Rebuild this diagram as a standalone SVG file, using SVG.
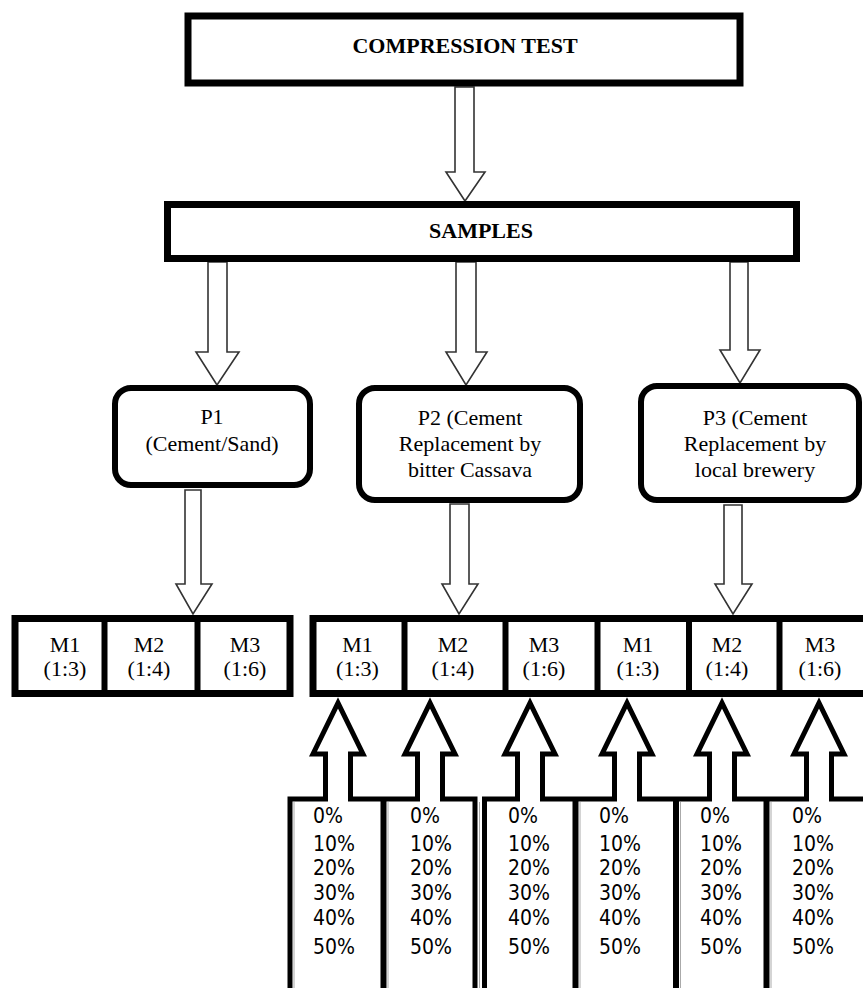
<svg xmlns="http://www.w3.org/2000/svg" width="863" height="988" viewBox="0 0 863 988">
<style>
.box{fill:#fff;stroke:#000;stroke-width:7}
.pbox{fill:#fff;stroke:#000;stroke-width:6}
.cell{fill:none;stroke:#000;stroke-width:6}
.harrow{fill:#fff;stroke:#333;stroke-width:1.6;stroke-linejoin:miter}
.tarrow{fill:#fff;stroke:#000;stroke-width:5;stroke-linejoin:miter;stroke-miterlimit:10}
.div{stroke:#000;stroke-width:6}
.thin{stroke:#aaa;stroke-width:1}
.sb{font-family:"Liberation Serif","Times New Roman",serif;font-size:22px;font-weight:bold;text-anchor:middle}
.s{font-family:"Liberation Serif","Times New Roman",serif;font-size:22px;text-anchor:middle}
.pc{font-family:"DejaVu Sans Condensed","DejaVu Sans",sans-serif;font-stretch:condensed;font-size:21px}
</style>
<rect width="863" height="988" fill="#fff"/>
<g id="connectors">
<path class="harrow" d="M455,87 V172 H446 L465,201 L485,172 H474 V87 Z"/>
<path class="harrow" d="M208,262 V352 H196 L217,385 L239,352 H227 V262 Z"/>
<path class="harrow" d="M456,262 V352 H446 L466,385 L487,352 H476 V262 Z"/>
<path class="harrow" d="M730,262 V350 H720 L740,383 L760,350 H748 V262 Z"/>
<path class="harrow" d="M185,490 V584 H176 L193,614 L212,584 H201 V490 Z"/>
<path class="harrow" d="M450,504 V584 H442 L459,614 L478,584 H469 V504 Z"/>
<path class="harrow" d="M724,505 V584 H715 L733,614 L752,584 H742 V505 Z"/>
<path class="tarrow" d="M290,988 V799 H325.5 V754 H313 L338,703 L363,754 H350.5 V799 H417.5 V754 H405 L430,703 L455,754 H442.5 V799 H475 V988"/>
<path class="tarrow" d="M484.5,988 V799 H517.5 V754 H505 L530,703 L555,754 H542.5 V799 H614.5 V754 H602 L627,703 L652,754 H639.5 V799 H709.5 V754 H697 L722,703 L747,754 H734.5 V799 H806.5 V754 H794 L819,703 L844,754 H831.5 V799 H875"/>
</g>
<g id="compression-test">
<rect class="box" x="188" y="16" width="552" height="67"/>
<text class="sb" x="465" y="53">COMPRESSION TEST</text>
</g>
<g id="samples">
<rect class="box" x="167.5" y="204.5" width="629" height="54"/>
<text class="sb" x="481" y="238">SAMPLES</text>
</g>
<g id="p1">
<rect class="pbox" x="115" y="388" width="195" height="97" rx="16"/>
<text class="s" x="212" y="424">P1</text>
<text class="s" x="212" y="451">(Cement/Sand)</text>
</g>
<g id="p2">
<rect class="pbox" x="359" y="388" width="221" height="112" rx="16"/>
<text class="s" x="470" y="425">P2 (Cement</text>
<text class="s" x="470" y="451">Replacement by</text>
<text class="s" x="470" y="477">bitter Cassava</text>
</g>
<g id="p3">
<rect class="pbox" x="641" y="386" width="218" height="114" rx="16"/>
<text class="s" x="755" y="425">P3 (Cement</text>
<text class="s" x="755" y="451">Replacement by</text>
<text class="s" x="755" y="477">local brewery</text>
</g>
<g id="mix-p1">
<rect class="box" x="15" y="618.5" width="275" height="75"/>
<line class="div" x1="104.5" y1="618" x2="104.5" y2="694"/>
<line class="div" x1="197.5" y1="618" x2="197.5" y2="694"/>
<text class="s" x="65" y="652">M1</text><text class="s" x="65" y="676">(1:3)</text>
<text class="s" x="149" y="652">M2</text><text class="s" x="149" y="676">(1:4)</text>
<text class="s" x="245" y="652">M3</text><text class="s" x="245" y="676">(1:6)</text>
</g>
<g id="mix-p2-p3">
<rect class="box" x="313" y="618.5" width="570" height="75"/>
<line class="div" x1="404.5" y1="618" x2="404.5" y2="694"/>
<line class="div" x1="505.5" y1="618" x2="505.5" y2="694"/>
<line class="div" x1="597.5" y1="618" x2="597.5" y2="694"/>
<line class="div" x1="689" y1="618" x2="689" y2="694"/>
<line class="div" x1="779.5" y1="618" x2="779.5" y2="694"/>
<text class="s" x="357.5" y="652">M1</text><text class="s" x="357.5" y="676">(1:3)</text>
<text class="s" x="453" y="652">M2</text><text class="s" x="453" y="676">(1:4)</text>
<text class="s" x="544" y="652">M3</text><text class="s" x="544" y="676">(1:6)</text>
<text class="s" x="638" y="652">M1</text><text class="s" x="638" y="676">(1:3)</text>
<text class="s" x="727" y="652">M2</text><text class="s" x="727" y="676">(1:4)</text>
<text class="s" x="820" y="652">M3</text><text class="s" x="820" y="676">(1:6)</text>
</g>
<g id="percent-columns">
<line class="div" x1="383.5" y1="799" x2="383.5" y2="988"/>
<line class="div" x1="575.5" y1="799" x2="575.5" y2="988"/>
<line class="div" x1="676" y1="799" x2="676" y2="988"/>
<line class="div" x1="766.5" y1="799" x2="766.5" y2="988"/>
<line class="thin" x1="294" y1="802" x2="294" y2="988"/>
<line class="thin" x1="388" y1="802" x2="388" y2="988"/>
<line class="thin" x1="479.5" y1="802" x2="479.5" y2="988"/>
<line class="thin" x1="580" y1="802" x2="580" y2="988"/>
<line class="thin" x1="680.5" y1="802" x2="680.5" y2="988"/>
<line class="thin" x1="771" y1="802" x2="771" y2="988"/>
</g>
<g id="pct-texts" class="pc">
<g id="pct1"><text x="313" y="823">0%</text><text x="313" y="851">10%</text><text x="313" y="875">20%</text><text x="313" y="900">30%</text><text x="313" y="925">40%</text><text x="313" y="954">50%</text></g>
<g id="pct2"><text x="410" y="823">0%</text><text x="410" y="851">10%</text><text x="410" y="875">20%</text><text x="410" y="900">30%</text><text x="410" y="925">40%</text><text x="410" y="954">50%</text></g>
<g id="pct3"><text x="508" y="823">0%</text><text x="508" y="851">10%</text><text x="508" y="875">20%</text><text x="508" y="900">30%</text><text x="508" y="925">40%</text><text x="508" y="954">50%</text></g>
<g id="pct4"><text x="599" y="823">0%</text><text x="599" y="851">10%</text><text x="599" y="875">20%</text><text x="599" y="900">30%</text><text x="599" y="925">40%</text><text x="599" y="954">50%</text></g>
<g id="pct5"><text x="700" y="823">0%</text><text x="700" y="851">10%</text><text x="700" y="875">20%</text><text x="700" y="900">30%</text><text x="700" y="925">40%</text><text x="700" y="954">50%</text></g>
<g id="pct6"><text x="792" y="823">0%</text><text x="792" y="851">10%</text><text x="792" y="875">20%</text><text x="792" y="900">30%</text><text x="792" y="925">40%</text><text x="792" y="954">50%</text></g>
</g>
</svg>
